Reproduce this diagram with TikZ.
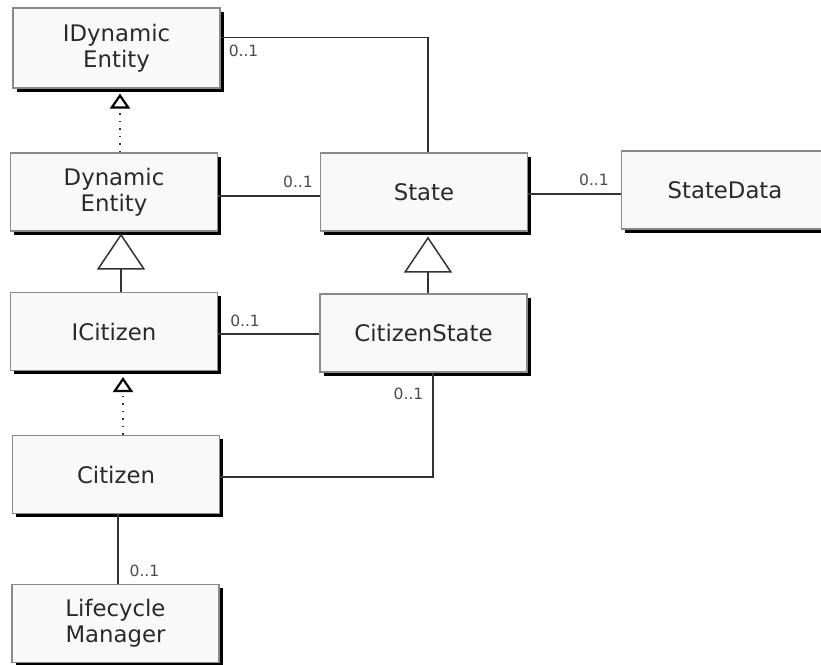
\documentclass[tikz,border=0pt]{standalone}
\usepackage{fontspec}
\setmainfont{DejaVu Sans}
\usetikzlibrary{shadows,calc,arrows.meta}
\definecolor{boxfill}{HTML}{F9F9F9}
\definecolor{boxline}{HTML}{8A8A8A}
\definecolor{txt}{HTML}{2A2A2A}
\definecolor{lnk}{HTML}{333333}
\tikzset{
  cls/.style={draw=boxline, line width=1.1pt, fill=boxfill, text=txt,
    minimum width=207pt, minimum height=78pt, inner sep=0pt, align=center,
    font=\fontsize{22.8}{26}\selectfont,
    drop shadow={shadow xshift=3.5pt, shadow yshift=-3.5pt, fill=black, opacity=1}},
  assoc/.style={draw=lnk, line width=1.5pt},
  mult/.style={text=txt!85, inner sep=0pt, font=\fontsize{15.5}{16}\selectfont},
  realize/.style={draw=lnk, line width=1.5pt, dash pattern=on 1.5pt off 6pt,
    -{Triangle[open, width=20pt, length=15pt, line width=2.2pt, color=black]}},
  generalize/.style={draw=lnk, line width=1.5pt,
    -{Triangle[open, width=48pt, length=36pt, line width=1.5pt, color=lnk]}}
}
\begin{document}
\begin{tikzpicture}[x=1pt, y=-1pt]
\useasboundingbox (0,0) rectangle (821,664);
\clip (0,0) rectangle (821,664);
\fill[white] (0,0) rectangle (821,664);

\node[cls, minimum height=80pt] (IDE) at (116.5,48) {IDynamic\\Entity};
\node[cls] (DE) at (114,192) {Dynamic\\Entity};
\node[cls] (State) at (424,192) {State};
\node[cls] (SD) at (725,190) {StateData};
\node[cls] (IC) at (114,331.5) {ICitizen};
\node[cls] (CS) at (423.5,333) {CitizenState};
\node[cls] (Cit) at (116,474.5) {Citizen};
\node[cls] (LM) at (115.5,623.5) {Lifecycle\\Manager};

% IDynamicEntity -- State
\coordinate (a1) at ($(IDE.north east)+(0,30)$);
\coordinate (a2) at ($(State.north)+(4,0)$);
\draw[assoc] (a1) -| (a2);
\node[mult, anchor=north west] (m1) at ($(IDE.north east)+(8,37)$) {0..1};

% DynamicEntity -- State
\coordinate (b1) at ($(DE.east)+(0,4)$);
\draw[assoc] (b1) -- (b1 -| State.west);
\node[mult, anchor=south east] (m2) at ($(State.west)+(-7,-4)$) {0..1};

% State -- StateData
\coordinate (c1) at ($(State.east)+(0,2)$);
\draw[assoc] (c1) -- (c1 -| SD.west);
\node[mult, anchor=south east] (m3) at ($(SD.west)+(-12,-4)$) {0..1};

% ICitizen -- CitizenState
\coordinate (d1) at ($(IC.east)+(0,2.5)$);
\draw[assoc] (d1) -- (d1 -| CS.west);
\node[mult, anchor=south west] (m4) at ($(IC.east)+(12,-5)$) {0..1};

% Citizen -- CitizenState
\coordinate (e1) at ($(Cit.east)+(0,2.5)$);
\coordinate (e2) at ($(CS.south)+(9.5,0)$);
\draw[assoc] (e1) -| (e2);
\node[mult, anchor=north east] (m5) at ($(CS.south)+(0,15)$) {0..1};

% Citizen -- LifecycleManager
\coordinate (f1) at ($(Cit.south)+(2,0)$);
\draw[assoc] (f1) -- (f1 |- LM.north);
\node[mult, anchor=south west] (m6) at ($(LM.north)+(14,-7)$) {0..1};

% realizations
\coordinate (g1) at ($(DE.north)+(6,0)$);
\draw[realize] (g1) -- ($(g1 |- IDE.south)+(0,5)$);
\coordinate (h1) at ($(Cit.north)+(7,0)$);
\draw[realize] (h1) -- ($(h1 |- IC.south)+(0,6)$);

% generalizations
\coordinate (i1) at ($(IC.north)+(7,0)$);
\draw[generalize] (i1) -- ($(i1 |- DE.south)+(0,2)$);
\coordinate (j1) at ($(CS.north)+(4.5,0)$);
\draw[generalize] (j1) -- ($(j1 |- State.south)+(0,5)$);
\end{tikzpicture}
\end{document}
